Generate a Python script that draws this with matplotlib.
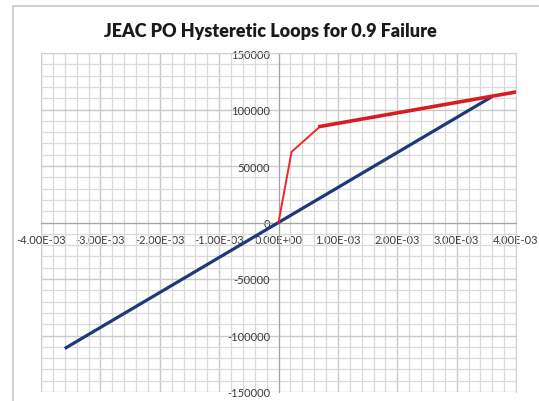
import numpy as np
import matplotlib
matplotlib.use("Agg")
import matplotlib.pyplot as plt
from matplotlib.patches import Rectangle
from matplotlib.ticker import MultipleLocator, FuncFormatter

# --- data ---
# red loop (thin part, then the thick overlapping branch)
red_x = [0.0, 2.2e-4, 7.0e-4, 4.0e-3]
red_y = [0, 62500, 85000, 115500]
# blue (elastic line)
blue_x = [-3.6e-3, 3.6e-3]
blue_y = [-111500, 111500]

title = "JEAC PO Hysteretic Loops for 0.9 Failure"

plt.rcParams['font.family'] = ['Lato', 'DejaVu Sans']

fig = plt.figure(figsize=(5.39, 4.02), dpi=100)
fig.patch.set_facecolor('white')

# chart area frame (Excel style)
fig.patches.append(Rectangle((13 / 539, -0.5), 2, 1.5 - 7 / 402, transform=fig.transFigure,
                             facecolor='none', edgecolor='#c8c8c8', lw=1.2, zorder=0))

ax = fig.add_axes([41 / 539, 1 - 393 / 402, 475 / 539, 339 / 402])
ax.set_xlim(-4e-3, 4e-3)
ax.set_ylim(-150000, 150000)

# grid
ax.xaxis.set_major_locator(MultipleLocator(1e-3))
ax.xaxis.set_minor_locator(MultipleLocator(2e-4))
ax.yaxis.set_major_locator(MultipleLocator(50000))
ax.yaxis.set_minor_locator(MultipleLocator(10000))
ax.grid(which='minor', color='#dadada', lw=0.9)
ax.grid(which='major', color='#cacaca', lw=1.0)
ax.set_axisbelow(True)

for s in ['top', 'right']:
    ax.spines[s].set_color('#d0d0d0')
ax.spines['left'].set_position('zero')
ax.spines['bottom'].set_position('zero')
ax.spines['left'].set_color('#a6a6a6')
ax.spines['bottom'].set_color('#a6a6a6')

ax.xaxis.set_major_formatter(FuncFormatter(lambda v, p: f"{v:.2E}"))
ax.yaxis.set_major_formatter(FuncFormatter(lambda v, p: f"{v:.0f}"))
ax.tick_params(which='both', length=0)
ax.tick_params(axis='x', pad=8.5, labelsize=8, labelcolor='#3a3a3a')
ax.tick_params(axis='y', pad=6.0, labelsize=8, labelcolor='#3a3a3a')

# lines
ax.plot(blue_x, blue_y, color='#1f3978', lw=2.3, solid_capstyle='butt', zorder=3)
ax.plot(red_x[:3], red_y[:3], color='#f0262b', lw=1.4, zorder=4)
ax.plot(red_x[2:], red_y[2:], color='#d91c22', lw=2.6, zorder=4)

fig.text(270 / 539, 1 - 31 / 402, title, ha='center', va='center',
         fontsize=13, fontweight='heavy', color='#1a1a1a')

fig.savefig('out.png', dpi=100)
